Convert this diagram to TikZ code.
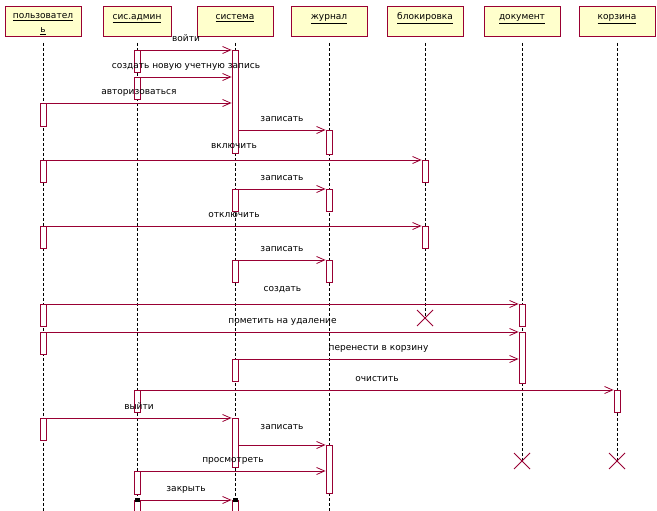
\documentclass[tikz,border=0pt]{standalone}
\usepackage{fontspec}
\setmainfont{DejaVu Sans}
\usetikzlibrary{arrows.meta}
\definecolor{rosered}{RGB}{153,0,51}
\definecolor{roseyellow}{RGB}{255,255,204}

\begin{document}
\begin{tikzpicture}[x=1pt,y=-1pt,
    font=\fontsize{9}{11}\selectfont,
    head/.style={draw=rosered, fill=roseyellow, line width=0.8pt, minimum width=76pt,
        minimum height=30pt, anchor=north, align=center, inner sep=1pt},
    life/.style={dash pattern=on 3pt off 2pt, line width=0.8pt},
    act/.style={draw=rosered, fill=white, line width=0.8pt, minimum width=6pt,
        inner sep=0pt, anchor=north},
    msg/.style={draw=rosered, line width=0.8pt, -{Straight Barb[length=8pt,width=7pt]}},
    lbl/.style={midway, above=6pt, inner sep=0pt, text height=6pt, text depth=2pt},
    kill/.style={draw=rosered, line width=0.8pt},
    endsq/.style={fill=black, minimum width=5pt, minimum height=4pt, inner sep=0pt}]

    \useasboundingbox (0,0) rectangle (657,511);

    % Object heads
    \node[head] (usr) at (43,6) {\rule{0pt}{11pt}\underline{пользовател}\\[3pt]\underline{ь}};
    \node[head, minimum width=68pt] (adm) at (137,6) {\rule{0pt}{11pt}\underline{сис.админ}\\[3pt]\mbox{}};
    \node[head] (sys) at (235,6) {\rule{0pt}{11pt}\underline{система}\\[3pt]\mbox{}};
    \node[head] (jrn) at (329,6) {\rule{0pt}{11pt}\underline{журнал}\\[3pt]\mbox{}};
    \node[head] (blk) at (425,6) {\rule{0pt}{11pt}\underline{блокировка}\\[3pt]\mbox{}};
    \node[head] (doc) at (522,6) {\rule{0pt}{11pt}\underline{документ}\\[3pt]\mbox{}};
    \node[head] (krz) at (617,6) {\rule{0pt}{11pt}\underline{корзина}\\[3pt]\mbox{}};

    % Lifeline ends
    \coordinate (usrend) at (43,511);
    \coordinate (admend) at (137,511);
    \coordinate (sysend) at (235,511);
    \coordinate (jrnend) at (329,511);
    \coordinate (blkend) at (425,318);
    \coordinate (docend) at (522,461);
    \coordinate (krzend) at (617,461);

    % Lifelines
    \foreach \n in {usr,adm,sys,jrn,blk,doc,krz}
        \draw[life] ([yshift=-6pt]\n.south) -- (\n end);

    % Destroy marks
    \foreach \n in {blk,doc,krz}
        \draw[kill] (\n end) +(-8,-8) -- +(8,8) +(-8,8) -- +(8,-8);

    % Activations
    \foreach \n/\x/\t/\h in {adm1/137/50/22, sys1/235/50/103, adm2/137/77/22,
        usr1/43/103/23, jrn1/329/130/24, usr2/43/160/22, blk1/425/160/22,
        sys2/235/189/22, jrn2/329/189/22, usr3/43/226/22, blk2/425/226/22,
        sys3/235/260/22, jrn3/329/260/22, usr4/43/304/22, doc1/522/304/22,
        usr5/43/332/22, doc2/522/332/51, sys4/235/359/22, adm3/137/390/22,
        krz1/617/390/22, usr6/43/418/22, sys5/235/418/49, jrn4/329/445/48,
        adm4/137/471/23, adm5/137/500/20, sys6/235/500/20}
        \node[act, minimum height=\h pt] (\n) at (\x,\t) {};

    % Messages
    \draw[msg] (adm1.north east) -- (adm1.north east -| sys1.west) node[lbl] {войти};
    \draw[msg] (adm2.north east) -- (adm2.north east -| sys1.west) node[lbl] {создать новую учетную запись};
    \draw[msg] (usr1.north east) -- (usr1.north east -| sys1.west) node[lbl] {авторизоваться};
    \draw[msg] (jrn1.north west -| sys1.east) -- (jrn1.north west) node[lbl] {записать};
    \draw[msg] (usr2.north east) -- (blk1.north west) node[lbl, yshift=3pt] {включить};
    \draw[msg] (sys2.north east) -- (jrn2.north west) node[lbl] {записать};
    \draw[msg] (usr3.north east) -- (blk2.north west) node[lbl] {отключить};
    \draw[msg] (sys3.north east) -- (jrn3.north west) node[lbl] {записать};
    \draw[msg] (usr4.north east) -- (doc1.north west) node[lbl, yshift=4pt] {создать};
    \draw[msg] (usr5.north east) -- (doc2.north west) node[lbl] {пометить на удаление};
    \draw[msg] (sys4.north east) -- (sys4.north east -| doc2.west) node[lbl] {перенести в корзину};
    \draw[msg] (adm3.north east) -- (krz1.north west) node[lbl] {очистить};
    \draw[msg] (usr6.north east) -- (sys5.north west) node[lbl] {выйти};
    \draw[msg] (jrn4.north west -| sys5.east) -- (jrn4.north west) node[lbl, yshift=7pt] {записать};
    \draw[msg] (adm4.north east) -- (adm4.north east -| jrn4.west) node[lbl] {просмотреть};
    \draw[msg] (adm5.north east) -- (sys6.north west) node[lbl] {закрыть};

    % Ends of the last message
    \node[endsq] (sq1) at (adm5.north) {};
    \node[endsq] (sq2) at (sys6.north) {};
\end{tikzpicture}
\end{document}
